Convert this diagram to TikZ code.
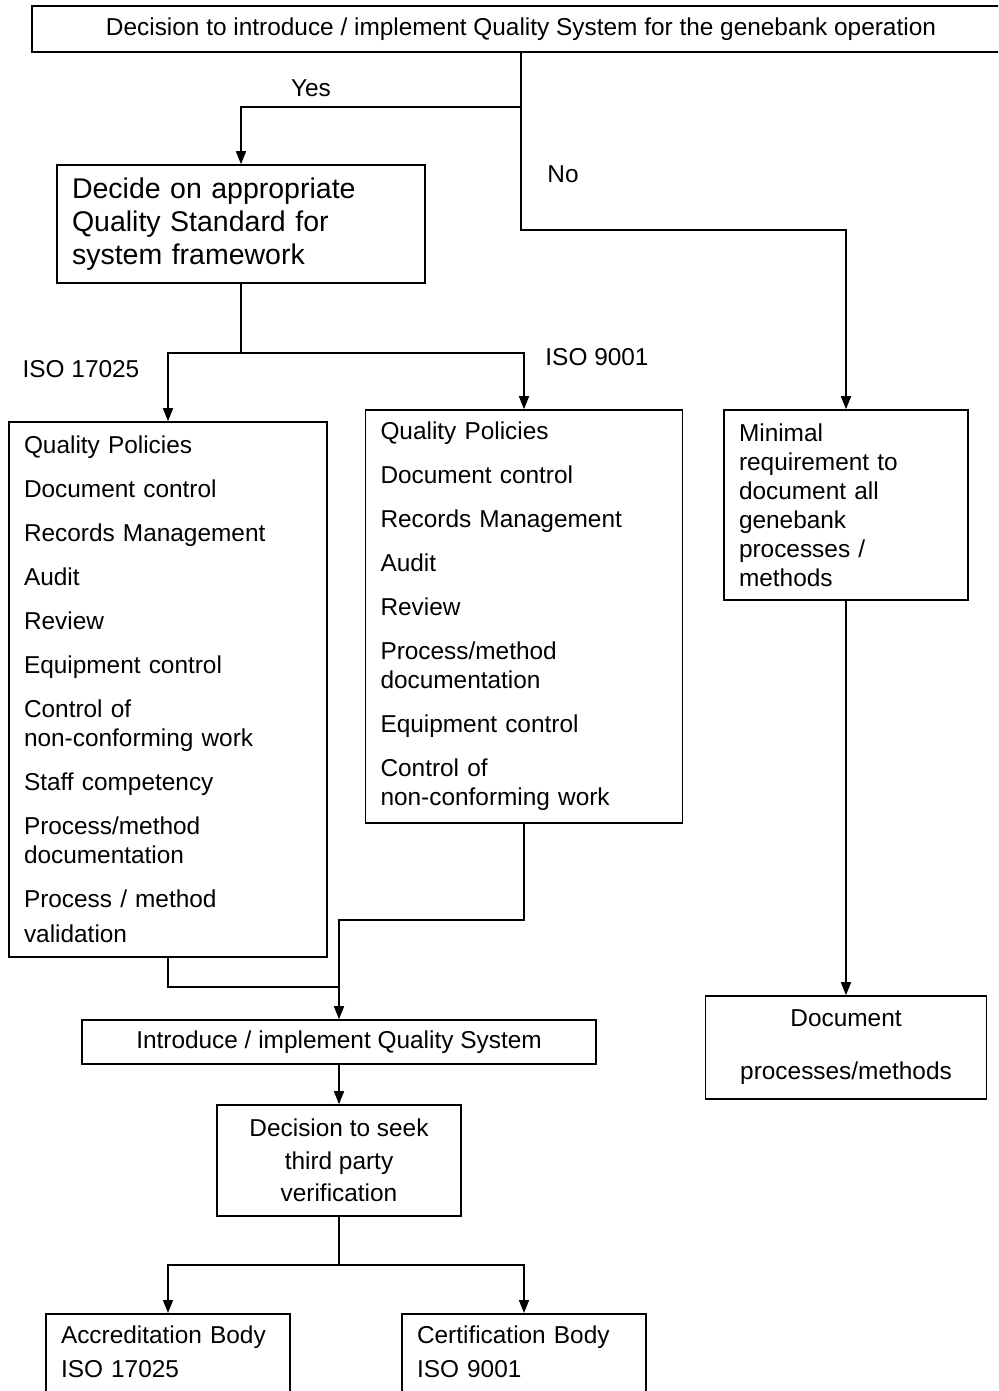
\documentclass[tikz,border=0pt]{standalone}
\usepackage{fontspec}
\setmainfont{Liberation Sans}
\usepackage{tikz}
\usetikzlibrary{arrows.meta,positioning}

\begin{document}
\begin{tikzpicture}[
        x=1pt, y=-1pt,
        font=\fontsize{24.4}{29}\selectfont,
        >={Triangle[length=13pt,width=10pt]},
        line width=1.6pt,
        box/.style={rectangle,draw,inner xsep=15pt,inner ysep=0pt,align=center},
        listbox/.style={box,align=left},
        arrow/.style={->}
    ]
        \useasboundingbox (0,0) rectangle (998,1391);
        \clip (0,0) rectangle (998,1391);

        \node[box,minimum width=978pt,minimum height=46pt] (decision) at (521,29) {Decision to introduce / implement Quality System for the genebank operation};
        \node[listbox,text width=338pt,minimum height=118pt,font=\fontsize{28.5}{33}\selectfont] (standard) at (241,224) {Decide on appropriate\\Quality Standard for\\system framework};
        \node[listbox,text width=288pt,minimum height=535pt] (iso17025) at (168,689.5) {Quality Policies\\[15pt]Document control\\[15pt]Records Management\\[15pt]Audit\\[15pt]Review\\[15pt]Equipment control\\[15pt]Control of\\non-conforming work\\[15pt]Staff competency\\[15pt]Process/method\\documentation\\[15pt]Process / method\\[6pt]validation};
        \node[listbox,text width=287pt,minimum height=413pt] (iso9001) at (524,616.5) {Quality Policies\\[15pt]Document control\\[15pt]Records Management\\[15pt]Audit\\[15pt]Review\\[15pt]Process/method\\documentation\\[15pt]Equipment control\\[15pt]Control of\\non-conforming work};
        \node[listbox,text width=214pt,minimum height=190pt] (minimal) at (846,505) {Minimal\\requirement to\\document all\\genebank\\processes /\\methods};
        \node[box,minimum width=281pt,minimum height=103pt] (document) at (846,1047.5) {Document\\[24pt]processes/methods};
        \node[box,minimum width=514pt,minimum height=44pt] (introduce) at (339,1042) {Introduce / implement Quality System};
        \node[box,minimum width=244pt,minimum height=111pt,font=\fontsize{24.4}{32.5}\selectfont] (verify) at (339,1160.5) {Decision to seek\\third party\\verification};
        \node[listbox,text width=214pt,anchor=north,inner ysep=12pt,font=\fontsize{24.4}{34}\selectfont] (accreditation) at (168,1313) {Accreditation Body\\ISO 17025\\\mbox{}};
        \node[listbox,text width=214pt,anchor=north,inner ysep=12pt,font=\fontsize{24.4}{34}\selectfont] (certification) at (524,1313) {Certification Body\\ISO 9001\\\mbox{}};

        % branch labels
        \node (yes) at (311,88) {Yes};
        \node (no) at (563,174) {No};
        \node (lbl17025) at (81,369) {ISO 17025};
        \node (lbl9001) at (597,357) {ISO 9001};

        \coordinate (yesfork) at (521,107);
        \coordinate (nofork) at (521,230);
        \coordinate (isofork) at (241,353);
        \coordinate (leftjoin) at (339,987);
        \coordinate (midjoin) at (339,920);
        \coordinate (bodyfork) at (339,1265);

        \draw[arrow] (decision.south) -- (yesfork) -| (standard.north);
        \draw[arrow] (yesfork) -- (nofork) -| (minimal.north);
        \draw[arrow] (standard.south) -- (isofork) -| (iso17025.north);
        \draw[arrow] (isofork) -| (iso9001.north);
        \draw[arrow] (minimal.south) -- (document.north);
        \draw (iso17025.south) |- (leftjoin);
        \draw[arrow] (iso9001.south) |- (midjoin) -- (introduce.north);
        \draw[arrow] (introduce) -- (verify);
        \draw[arrow] (verify.south) -- (bodyfork) -| (accreditation.north);
        \draw[arrow] (bodyfork) -| (certification.north);
    \end{tikzpicture}
\end{document}
